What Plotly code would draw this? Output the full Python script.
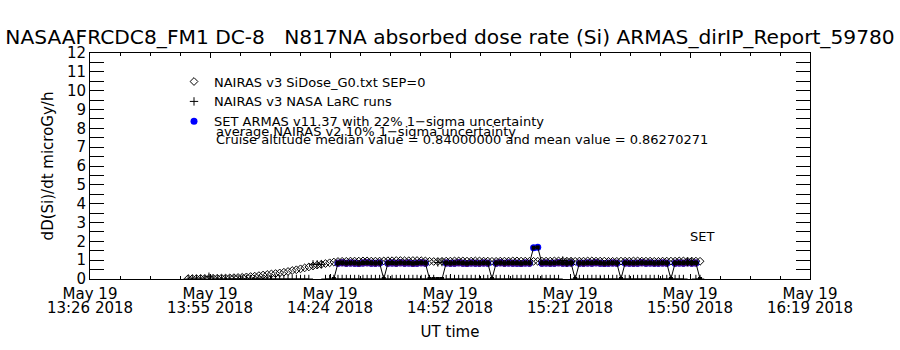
import pandas as pd
import plotly.graph_objects as go

# ---------------- data ----------------
title_text = "NASAAFRCDC8_FM1 DC-8   N817NA absorbed dose rate (Si) ARMAS_dirIP_Report_59780"
x_range = ["2018-05-19 13:26:25", "2018-05-19 16:19:25"]
x_tick_time = ["13:26 2018", "13:55 2018", "14:24 2018", "14:52 2018",
               "15:21 2018", "15:50 2018", "16:19 2018"]
x_tick_date = ["May 19", "May 19", "May 19", "May 19", "May 19", "May 19", "May 19"]

# NAIRAS v3 SiDose_G0 (1-minute samples from 13:50 to 15:53 UT)
nairas_start = "2018-05-19 13:50"
nairas_si = [
    0.02, 0.02, 0.02, 0.03, 0.03, 0.03, 0.04, 0.04, 0.05, 0.05,
    0.06, 0.07, 0.08, 0.09, 0.11, 0.13, 0.15, 0.18, 0.21, 0.24,
    0.27, 0.29, 0.32, 0.36, 0.40, 0.45, 0.49, 0.54, 0.59, 0.64,
    0.69, 0.74, 0.78, 0.82, 0.86, 0.90,
    0.93, 0.94, 0.94, 0.95, 0.95, 0.95, 0.96, 0.96, 0.95, 0.95,
    0.95, 0.96, 0.97, 0.97, 0.98, 0.98, 0.97, 0.97, 0.98, 0.98,
    0.97, 0.96, 0.94, 0.93, 0.93, 0.94, 0.95, 0.95, 0.96, 0.96,
    0.96, 0.95, 0.95, 0.96, 0.96, 0.95, 0.95, 0.94, 0.94, 0.95,
    0.95, 0.95, 0.96, 0.96, 0.95, 0.95, 0.94, 0.94, 0.94, 0.95,
    0.95, 0.95, 0.96, 0.96, 0.95, 0.95, 0.95, 0.94, 0.95, 0.95,
    0.96, 0.96, 0.95, 0.95, 0.95, 0.94, 0.94, 0.94, 0.95, 0.95,
    0.95, 0.96, 0.96, 0.95, 0.95, 0.95, 0.94, 0.94, 0.95, 0.95,
    0.95, 0.95, 0.96, 0.96, 0.95, 0.95, 0.95, 0.94,
]

# NAIRAS v3 NASA LaRC runs (1-minute samples from 13:50 to 15:53 UT)
larc_start = "2018-05-19 13:50"
larc = [
    0, 0, 0, 0, 0, 0.12, 0, 0, 0, 0,
    0, 0, 0, 0, 0, 0, 0, 0, 0, 0,
    0, 0, 0, 0, 0, 0, 0, 0, 0, 0,
    0.78, 0.78, 0.78, 0, 0, 0, 0, 0, 0, 0,
    0, 0, 0, 0, 0, 0, 0, 0, 0, 0,
    0, 0, 0, 0, 0, 0, 0, 0, 0, 0,
    0.88, 0.90, 0, 0, 0, 0, 0, 0, 0, 0,
    0, 0, 0, 0, 0, 0, 0, 0, 0, 0,
    0, 0, 0, 0, 0, 0, 0, 0, 0, 0,
    0.98, 0.88, 0.90, 0, 0, 0, 0, 0, 0, 0,
    0, 0, 0, 0, 0, 0, 0, 0, 0, 0,
    0, 0, 0, 0, 0, 0, 0, 0, 0, 0,
    0.90, 0.92, 0, 0,
]

# SET ARMAS v11.37 (1-minute samples from 14:25 to 15:53 UT)
armas_start = "2018-05-19 14:25"
armas = [
    0,
    0.84, 0.86, 0.83, 0.85, 0.84, 0.82, 0.85, 0.86, 0.84, 0.83, 0.85,
    0,
    0.84, 0.85, 0.83, 0.86, 0.84, 0.85, 0.82, 0.84, 0.86, 0.84,
    0, 0, 0, 0,
    0.85, 0.83, 0.84, 0.86, 0.84, 0.82, 0.85, 0.84, 0.83, 0.85, 0.84,
    0,
    0.84, 0.86, 0.83, 0.85, 0.84, 0.84, 0.82, 0.85, 0.84,
    1.66, 1.68,
    0.84, 0.85, 0.83, 0.84, 0.86, 0.84, 0.83, 0.85,
    0,
    0.84, 0.83, 0.85, 0.84, 0.86, 0.84, 0.82, 0.84, 0.85, 0.84,
    0,
    0.85, 0.84, 0.83, 0.84, 0.86, 0.84, 0.85, 0.83, 0.84, 0.85, 0.84,
    0,
    0.84, 0.85, 0.84, 0.86, 0.84, 0.85,
    0,
]
armas_sigma = 0.22   # 22% 1-sigma uncertainty

# ---------------- derived ----------------
t_nairas = pd.date_range(nairas_start, periods=len(nairas_si), freq="1min")
t_larc = pd.date_range(larc_start, periods=len(larc), freq="1min")
t_armas = pd.date_range(armas_start, periods=len(armas), freq="1min")

major_ticks = pd.date_range(x_range[0], x_range[1], periods=len(x_tick_time))
minor_ticks = pd.date_range(x_range[0], x_range[1], periods=4 * (len(x_tick_time) - 1) + 1)

armas_pos = [(t, v) for t, v in zip(t_armas, armas) if v > 0]
band = [(t, v) for t, v in armas_pos if v < 1.2]

PURPLE = "#4a0c80"
FONT = "DejaVu Sans"

fig = go.Figure()

# ARMAS connecting line (drawn on the overlaid twin x axis, same range)
fig.add_trace(go.Scatter(
    x=t_armas, y=armas, mode="lines+markers", showlegend=False, xaxis="x2",
    line=dict(color="black", width=1),
    marker=dict(symbol="square", size=4, color="black"),
    hoverinfo="skip"))

# ARMAS points
fig.add_trace(go.Scatter(
    x=[t for t, v in armas_pos], y=[v for t, v in armas_pos],
    mode="markers", name="SET ARMAS v11.37 with 22% 1\u2212sigma uncertainty",
    marker=dict(symbol="circle", size=7, color="#0000ff"),
    legendrank=3))

# ARMAS uncertainty band
fig.add_trace(go.Scatter(
    x=[t for t, v in band], y=[v for t, v in band],
    mode="markers", showlegend=False,
    marker=dict(symbol="square", size=5, color=PURPLE),
    error_y=dict(type="percent", value=armas_sigma * 100, color=PURPLE,
                 thickness=3, width=0),
    hoverinfo="skip"))

# NAIRAS SiDose diamonds
fig.add_trace(go.Scatter(
    x=t_nairas, y=nairas_si, mode="markers",
    name="NAIRAS v3 SiDose_G0.txt SEP=0",
    marker=dict(symbol="diamond-open", size=6, color="black",
                line=dict(width=1, color="black")),
    legendrank=1))

# NASA LaRC runs
fig.add_trace(go.Scatter(
    x=t_larc, y=larc, mode="markers",
    name="NAIRAS v3 NASA LaRC runs",
    marker=dict(symbol="cross-thin", size=6, color="black",
                line=dict(width=1, color="black")),
    legendrank=2))

axis_common = dict(showline=True, linecolor="black", linewidth=1, showgrid=False,
                   zeroline=False, tickcolor="black", ticks="inside", mirror="allticks")

fig.update_layout(
    width=900, height=350,
    margin=dict(l=90, r=90, t=53, b=71, autoexpand=False),
    paper_bgcolor="white", plot_bgcolor="white",
    font=dict(family=FONT, color="black"),
    title=dict(text=title_text, x=0.5, xanchor="center", xref="container",
               y=1 - 37 / 350, yanchor="middle", yref="container",
               font=dict(size=20.2, family=FONT, color="black")),
    legend=dict(x=(174 - 90) / 720, xanchor="left", y=0.94, yanchor="top",
                bgcolor="rgba(0,0,0,0)", borderwidth=0, itemwidth=30,
                font=dict(size=13, family=FONT, color="black")),
    xaxis=dict(type="date", range=x_range, tickmode="array",
               tickvals=major_ticks, ticktext=x_tick_time, ticklen=5,
               minor=dict(tickmode="array", tickvals=minor_ticks, ticks="inside",
                          ticklen=3, tickcolor="black"),
               tickfont=dict(size=15), ticklabelstandoff=15,
               title=dict(text="UT time", font=dict(size=15), standoff=10),
               **axis_common),
    xaxis2=dict(type="date", range=x_range, overlaying="x", anchor="y", side="bottom",
                tickmode="array", tickvals=major_ticks, ticktext=x_tick_date,
                showline=False, ticks="", showgrid=False, zeroline=False,
                tickfont=dict(size=15), ticklabelstandoff=4),
    yaxis=dict(range=[0, 12], tickmode="linear", tick0=0, dtick=1, ticklen=14,
               minor=dict(dtick=0.5, ticks="inside", ticklen=7, tickcolor="black"),
               tickfont=dict(size=15),
               title=dict(text="dD(Si)/dt microGy/h", font=dict(size=15), standoff=9),
               **axis_common),
    annotations=[
        dict(text="average NAIRAS v2 10% 1\u2212sigma uncertainty", xref="paper", yref="paper",
             x=(214 - 90) / 720, y=(279 - 131) / 226, xanchor="left", yanchor="middle",
             showarrow=False, font=dict(size=13)),
        dict(text="Cruise altitude median value = 0.84000000 and mean value = 0.86270271",
             xref="paper", yref="paper", x=(214 - 90) / 720, y=(279 - 139) / 226,
             xanchor="left", yanchor="middle", showarrow=False, font=dict(size=13)),
        dict(text="SET", xref="paper", yref="paper", x=(702 - 90) / 720, y=(279 - 237) / 226,
             xanchor="center", yanchor="middle", showarrow=False, font=dict(size=13)),
    ],
)

fig.write_html("out.html")
